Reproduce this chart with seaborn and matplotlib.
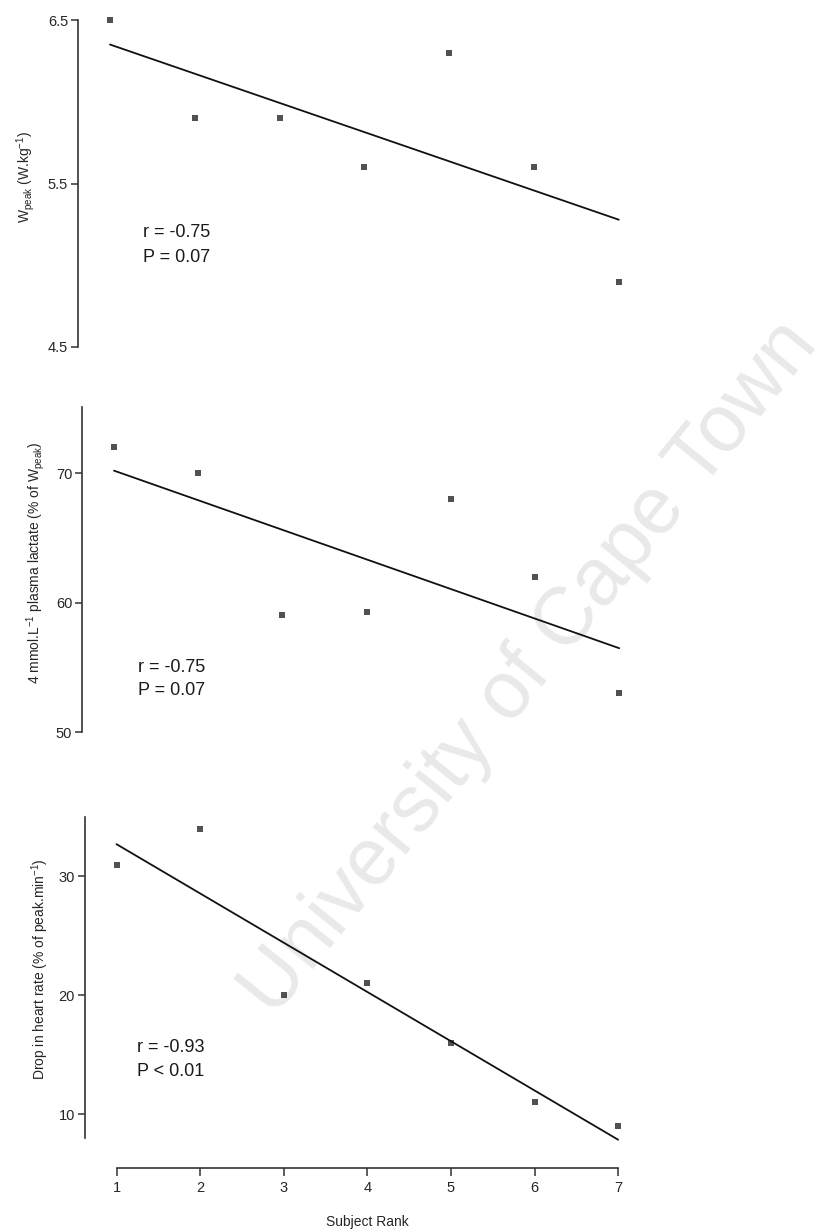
import matplotlib
matplotlib.use("Agg")
import matplotlib.pyplot as plt
import seaborn as sns
import pandas as pd

# Subject rank on the shared x axis
rank = [1, 2, 3, 4, 5, 6, 7]
rank_ticks = ["1", "2", "3", "4", "5", "6", "7"]

# Peak power output (W.kg-1)
w_peak = [6.5, 5.9, 5.9, 5.6, 6.3, 5.6, 4.9]
# Power at 4 mmol.L-1 plasma lactate (% of Wpeak)
lactate = [72, 70, 59, 59.3, 68, 62, 53]
# Drop in heart rate (% of peak.min-1)
hr_drop = [31, 34, 20, 21, 16, 11, 9]

stats_text = [("r = -0.75", "P = 0.07"), ("r = -0.75", "P = 0.07"), ("r = -0.93", "P < 0.01")]

sns.set_style("ticks")
plt.rcParams["font.family"] = ["Liberation Sans Narrow", "Liberation Sans", "DejaVu Sans"]
plt.rcParams["mathtext.fontset"] = "custom"
plt.rcParams["mathtext.rm"] = "Liberation Sans"
plt.rcParams["mathtext.it"] = "Liberation Sans"

W, H = 834, 1231
fig = plt.figure(figsize=(W / 100, H / 100), dpi=100)

XLIM = (0.62, 7.15)
SPAN = XLIM[1] - XLIM[0]


def make_axes(x1_px, px_per_unit, top_px, bottom_px):
    left = x1_px - (1 - XLIM[0]) * px_per_unit
    width = SPAN * px_per_unit
    ax = fig.add_axes([left / W, 1 - bottom_px / H, width / W, (bottom_px - top_px) / H])
    return ax, left, width


df = pd.DataFrame({"rank": rank, "w_peak": w_peak, "lactate": lactate, "hr_drop": hr_drop})

panels = [
    dict(col="w_peak", x=(110, 84.8), box=(20, 347), ylim=(4.5, 6.5), yticks=[4.5, 5.5, 6.5],
         ylabel=r"W$_{\mathregular{peak}}$ (W.kg$^{\mathregular{-1}}$)", lab=(26, 177),
         txt=(1.39, 5.2, 5.05)),
    dict(col="lactate", x=(114, 84.2), box=(407, 732), ylim=(50, 75.1), yticks=[50, 60, 70],
         ylabel=r"4 mmol.L$^{\mathregular{-1}}$ plasma lactate (% of W$_{\mathregular{peak}}$)",
         lab=(36, 563), txt=(1.29, 55.0, 53.2)),
    dict(col="hr_drop", x=(116.5, 83.6), box=(817, 1138), ylim=(8, 35), yticks=[10, 20, 30],
         ylabel=r"Drop in heart rate (% of peak.min$^{\mathregular{-1}}$)", lab=(40, 969),
         txt=(1.24, 15.64, 13.56)),
]

axes = []
for i, p in enumerate(panels):
    top, bottom = p["box"]
    ax, left, width = make_axes(p["x"][0], p["x"][1], top, bottom)
    ax.patch.set_visible(False)
    sns.regplot(data=df, x="rank", y=p["col"], ax=ax, ci=None, truncate=True, marker="s",
                scatter_kws=dict(s=25, color="#262626", linewidths=0, clip_on=False),
                line_kws=dict(color="#111111", lw=1.3, clip_on=False))
    ax.set_xlim(*XLIM)
    ax.set_ylim(*p["ylim"])
    ax.set_yticks(p["yticks"])
    ax.set_yticklabels([f"{v:g}" for v in p["yticks"]], fontsize=10.5)
    ax.tick_params(axis="y", direction="out", length=5, width=1.1, color="#333333", pad=2)
    for s in ("top", "right"):
        ax.spines[s].set_visible(False)
    ax.spines["left"].set_linewidth(1.2)
    ax.spines["left"].set_color("#333333")
    ax.spines["left"].set_bounds(*p["ylim"])
    ax.set_ylabel(p["ylabel"], fontsize=10, va="center")
    lx, ly = p["lab"]
    ax.yaxis.set_label_coords((lx - left) / width, (bottom - ly) / (bottom - top))
    tx, y1, y2 = p["txt"]
    ax.text(tx, y1, stats_text[i][0], fontsize=13, va="center", ha="left", color="#1a1a1a")
    ax.text(tx, y2, stats_text[i][1], fontsize=13, va="center", ha="left", color="#1a1a1a")
    axes.append(ax)

for ax in axes[:2]:
    ax.spines["bottom"].set_visible(False)
    ax.set_xticks([])
    ax.set_xlabel("")

ax3 = axes[2]
ax3.spines["bottom"].set_position(("outward", 21.6))
ax3.spines["bottom"].set_bounds(1, 7)
ax3.spines["bottom"].set_linewidth(1.2)
ax3.spines["bottom"].set_color("#333333")
ax3.set_xticks(rank)
ax3.set_xticklabels(rank_ticks, fontsize=10.5)
ax3.tick_params(axis="x", direction="out", length=6, width=1.1, color="#333333", pad=3)
ax3.set_xlabel("Subject Rank", fontsize=10, va="center")
ax3.xaxis.set_label_coords((4 - XLIM[0]) / SPAN, -(1222 - 1138) / (1138 - 817))

# Diagonal watermark across the page
fig.text(530 / W, 1 - 668 / H, "University of Cape Town", rotation=51, fontsize=58,
         color="#e9e9e9", ha="center", va="center", zorder=-1,
         family=["Liberation Sans", "DejaVu Sans"])

fig.savefig("out.png", dpi=100, facecolor="white")
